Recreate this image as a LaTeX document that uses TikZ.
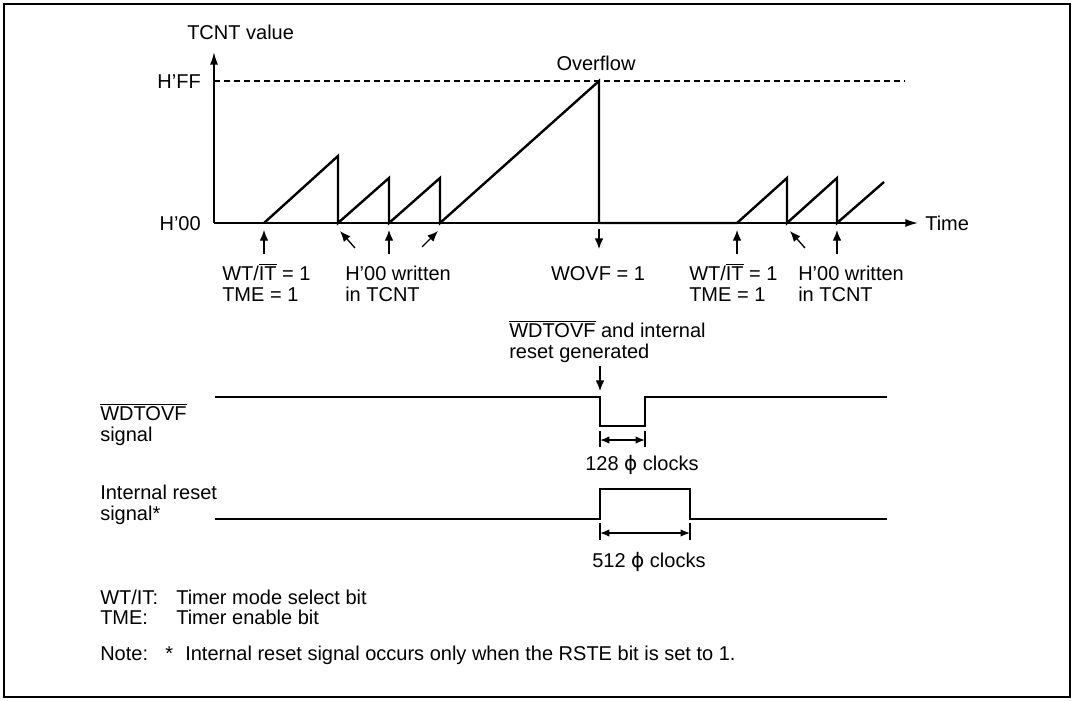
\documentclass[tikz,border=0pt]{standalone}
\usepackage{fontspec}
\setmainfont{Liberation Sans}
\newfontfamily\phifont{DejaVu Sans}
\usetikzlibrary{arrows.meta}
\newcommand\ovl[1]{\ensuremath{\overline{\mbox{#1}}}}
\newcommand\phisym{{\phifont ϕ}}
\begin{document}
\begin{tikzpicture}[x=0.75pt,y=-0.75pt,
  txt/.style={inner sep=0pt, font=\fontsize{15}{15.75}\selectfont},
  axisline/.style={line width=1.1pt,-{Latex[length=9.5pt,width=6pt]}},
  sig/.style={line width=1.8pt, line join=miter},
  ann/.style={line width=1pt,-{Latex[length=8pt,width=6.5pt]}},
  dimarrow/.style={line width=1pt,{Latex[length=7pt,width=5.5pt]}-{Latex[length=7pt,width=5.5pt]}},
  tickline/.style={line width=1pt}]
\useasboundingbox (0,0) rectangle (1073,700);
\draw[line width=1.5pt] (3.5,3.5) rectangle (1069.5,696.5);

% axes
\coordinate (O) at (214,223);
\coordinate (ytop) at (214,52);
\coordinate (xend) at (918,223);
\draw[axisline] (O) -- (ytop);
\draw[axisline] (O) -- (xend);
\coordinate (dashL) at (214,81);
\coordinate (dashR) at (905,81);
\draw[line width=0.8pt, dash pattern=on 4.5pt off 3pt] (dashL) -- (dashR);

% TCNT waveform
\draw[sig] (264,223) -- (338,156) -- (338,223) -- (389,178) -- (389,223)
  -- (440,178) -- (440,223) -- (599,81) -- (599,223) -- (737,223)
  -- (787,178) -- (787,223) -- (837,178) -- (837,223) -- (884,182);

% axis labels
\node[txt,anchor=base west] (tcnt) at (187,39) {TCNT value};
\node[txt,anchor=base east] (hff) at (201,88) {H’FF};
\node[txt,anchor=base east] (hzero) at (201,230) {H’00};
\node[txt,anchor=base] (ovf) at (596,70) {Overflow};
\node[txt,anchor=base west] (time) at (925,230) {Time};

% event arrows
\coordinate (a1s) at (264,254); \coordinate (a1e) at (264,230);
\coordinate (a2s) at (355,248); \coordinate (a2e) at (340,231);
\coordinate (a3s) at (389,254); \coordinate (a3e) at (389,230);
\coordinate (a4s) at (422,247); \coordinate (a4e) at (438,231);
\coordinate (a5s) at (599,229); \coordinate (a5e) at (599,249);
\coordinate (a6s) at (737,254); \coordinate (a6e) at (737,230);
\coordinate (a7s) at (805,248); \coordinate (a7e) at (790,231);
\coordinate (a8s) at (837,254); \coordinate (a8e) at (837,230);
\draw[ann] (a1s) -- (a1e);
\draw[ann] (a2s) -- (a2e);
\draw[ann] (a3s) -- (a3e);
\draw[ann] (a4s) -- (a4e);
\draw[ann] (a5s) -- (a5e);
\draw[ann] (a6s) -- (a6e);
\draw[ann] (a7s) -- (a7e);
\draw[ann] (a8s) -- (a8e);

% event labels
\node[txt,anchor=base west] (wtA) at (222,280) {WT/\ovl{IT} = 1};
\node[txt,anchor=base west] (tmeA) at (222,301) {TME = 1};
\node[txt,anchor=base west] (hwA) at (345,280) {H’00 written};
\node[txt,anchor=base west] (inA) at (345,301) {in TCNT};
\node[txt,anchor=base] (wovf) at (598,280) {WOVF = 1};
\node[txt,anchor=base west] (wtB) at (689,280) {WT/\ovl{IT} = 1};
\node[txt,anchor=base west] (tmeB) at (689,301) {TME = 1};
\node[txt,anchor=base west] (hwB) at (798,280) {H’00 written};
\node[txt,anchor=base west] (inB) at (798,301) {in TCNT};

\node[txt,anchor=base west] (genA) at (509,337) {\ovl{WDTOVF} and internal};
\node[txt,anchor=base west] (genB) at (509,358) {reset generated};
\coordinate (gs) at (600,366); \coordinate (ge) at (600,391);
\draw[ann] (gs) -- (ge);

% WDTOVF signal
\node[txt,anchor=base west] (wdA) at (100,420) {\ovl{WDTOVF}};
\node[txt,anchor=base west] (wdB) at (100,441) {signal};
\draw[sig] (215,397) -- (600,397) -- (600,426) -- (645,426) -- (645,397) -- (887,397);
\coordinate (t1a) at (600,431); \coordinate (t1b) at (600,447);
\coordinate (t2a) at (645,431); \coordinate (t2b) at (645,447);
\draw[tickline] (t1a) -- (t1b);
\draw[tickline] (t2a) -- (t2b);
\coordinate (d1a) at (600,440); \coordinate (d1b) at (645,440);
\draw[dimarrow] (d1a) -- (d1b);
\node[txt,anchor=base west] (c128) at (585,470) {128 \phisym\ clocks};

% internal reset signal
\node[txt,anchor=base west] (irA) at (100,499) {Internal reset};
\node[txt,anchor=base west] (irB) at (100,520) {signal*};
\draw[sig] (215,519) -- (600,519) -- (600,489) -- (690,489) -- (690,519) -- (887,519);
\coordinate (t3a) at (600,523); \coordinate (t3b) at (600,540);
\coordinate (t4a) at (690,523); \coordinate (t4b) at (690,540);
\draw[tickline] (t3a) -- (t3b);
\draw[tickline] (t4a) -- (t4b);
\coordinate (d2a) at (600,533); \coordinate (d2b) at (690,533);
\draw[dimarrow] (d2a) -- (d2b);
\node[txt,anchor=base west] (c512) at (592,567) {512 \phisym\ clocks};

% notes
\node[txt,anchor=base west] (nA) at (100,604) {WT/IT:};
\node[txt,anchor=base west] (nAb) at (176,604) {Timer mode select bit};
\node[txt,anchor=base west] (nB) at (100,624) {TME:};
\node[txt,anchor=base west] (nBb) at (176,624) {Timer enable bit};
\node[txt,anchor=base west] (nC) at (100,660) {Note:};
\node[txt,anchor=base west] (nCs) at (165,660) {*};
\node[txt,anchor=base west] (nCb) at (185,660) {Internal reset signal occurs only when the RSTE bit is set to 1.};
\end{tikzpicture}
\end{document}
